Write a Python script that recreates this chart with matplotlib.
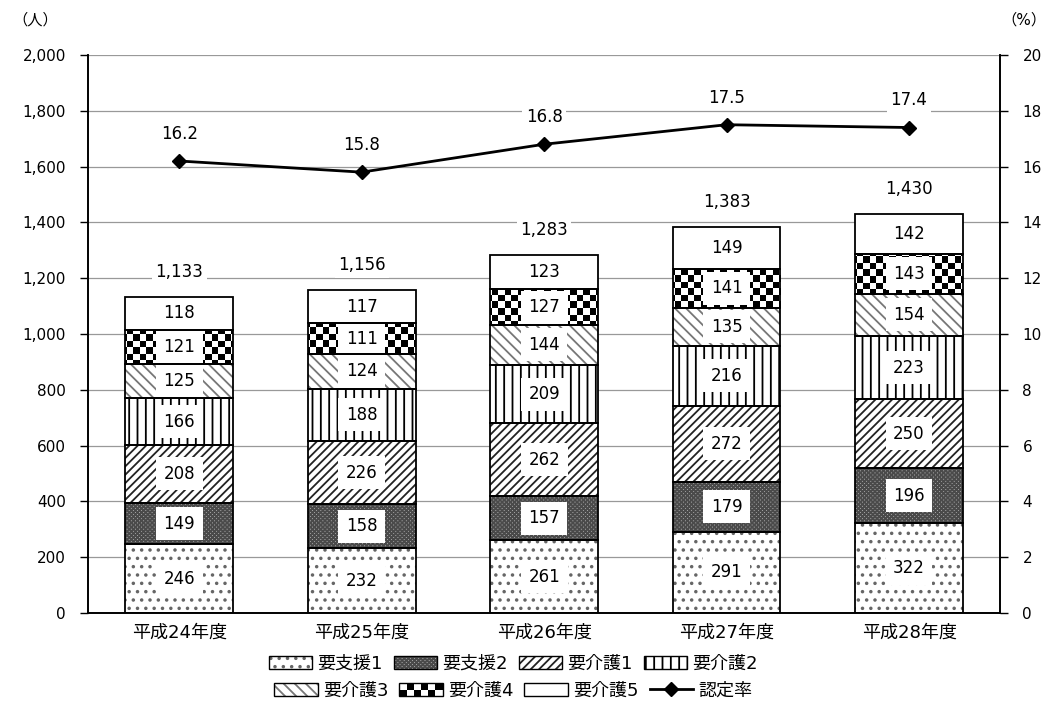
import numpy as np
import matplotlib
matplotlib.use("Agg")
import matplotlib.pyplot as plt
from matplotlib.patches import Patch, Rectangle
from matplotlib.lines import Line2D
from matplotlib.legend_handler import HandlerBase

plt.rcParams['font.family'] = ['DejaVu Sans', 'Noto Sans CJK JP']
plt.rcParams['hatch.linewidth'] = 1.3

# data
years = ["平成24年度", "平成25年度", "平成26年度", "平成27年度", "平成28年度"]
levels = ["要支援1", "要支援2", "要介護1", "要介護2", "要介護3", "要介護4", "要介護5"]
shien1 = [246, 232, 261, 291, 322]
shien2 = [149, 158, 157, 179, 196]
kaigo1 = [208, 226, 262, 272, 250]
kaigo2 = [166, 188, 209, 216, 223]
kaigo3 = [125, 124, 144, 135, 154]
kaigo4 = [121, 111, 127, 141, 143]
kaigo5 = [118, 117, 123, 149, 142]
rate = [16.2, 15.8, 16.8, 17.5, 17.4]

series = [shien1, shien2, kaigo1, kaigo2, kaigo3, kaigo4, kaigo5]
# (hatch, hatch colour, face colour) per level
styles = [
    ("..", "#666666", "white"),
    ("xxxxxxxx", "#4a4a4a", "#a8a8a8"),
    ("////", "#222222", "white"),
    ("||", "#000000", "white"),
    ("\\\\\\", "#777777", "white"),
    ("checker", "#000000", "white"),
    ("", "#000000", "white"),
]

fig = plt.figure(figsize=(10.54, 7.13), dpi=100)
ax = fig.add_axes([0.0835, 0.1403, 0.8655, 0.7826])
ax2 = ax.twinx()

x = np.arange(len(years))
w = 0.59
bottom = np.zeros(len(years))

# checkerboard texture (axes coords), cells ~6.5 px
nx, ny = 140, 86
checker = np.add.outer(np.arange(ny), np.arange(nx)) % 2

handles = []
for vals, (h, hc, fc), name in zip(series, styles, levels):
    vals = np.array(vals)
    if h == "checker":
        fill = ax.bar(x, vals, w, bottom=bottom, color="white", linewidth=0, zorder=2)
        for rect in fill:
            im = ax.imshow(checker, extent=(0, 1, 0, 1), transform=ax.transAxes,
                           cmap="gray", aspect="auto", interpolation="nearest", zorder=2.5)
            im.set_clip_path(rect)
        hnd = Patch(facecolor="white", edgecolor="black")
    else:
        ax.bar(x, vals, w, bottom=bottom, color=fc, edgecolor=hc, hatch=h,
               linewidth=0, zorder=2)
        hnd = (Patch(facecolor=fc, edgecolor=hc, hatch=h, linewidth=0),
               Patch(facecolor="none", edgecolor="black", linewidth=1))
    ax.bar(x, vals, w, bottom=bottom, fill=False, edgecolor="black", linewidth=1.3, zorder=5)
    for xi, b, v in zip(x, bottom, vals):
        ax.text(xi, b + v / 2, str(v), ha="center", va="center", fontsize=12, zorder=4,
                bbox=dict(boxstyle="square,pad=0.45", fc="white", ec="none"))
    handles.append(hnd)
    bottom = bottom + vals

for xi, t in zip(x, bottom):
    ax.annotate(f"{int(t):,}", (xi, t), xytext=(0, 18), textcoords="offset points",
                ha="center", va="center", fontsize=12, zorder=5,
                bbox=dict(boxstyle="square,pad=0.2", fc="white", ec="none"))

ax2.plot(x, rate, color="black", linewidth=2, marker="D", markersize=7, zorder=4)
for xi, r in zip(x, rate):
    ax2.annotate(f"{r:.1f}", (xi, r), xytext=(0, 19.5), textcoords="offset points",
                 ha="center", va="center", fontsize=12,
                 bbox=dict(boxstyle="square,pad=0.2", fc="white", ec="none"))

ax.set_xlim(-0.5, 4.5)
ax.set_ylim(0, 2000)
ax.set_yticks(np.arange(0, 2001, 200))
ax.set_yticklabels([f"{v:,}" for v in range(0, 2001, 200)])
ax2.set_ylim(0, 20)
ax2.set_yticks(np.arange(0, 21, 2))
ax.set_xticks(x)
ax.set_xticklabels(years, fontsize=13)
ax.tick_params(axis="x", length=0, pad=8)
ax.tick_params(axis="y", length=6, width=1, labelsize=11, pad=10)
ax2.tick_params(axis="y", length=6, width=1, labelsize=11, pad=10)
ax.grid(axis="y", color="#999999", linewidth=0.9, zorder=0)
ax.set_axisbelow(True)
for a in (ax, ax2):
    a.spines["top"].set_visible(False)
    for s in ("left", "right", "bottom"):
        a.spines[s].set_linewidth(1.2)
ax2.set_zorder(ax.get_zorder() + 1)
ax2.patch.set_visible(False)

fig.text(0.012, 0.972, "（人）", fontsize=11, va="center")
fig.text(0.95, 0.972, "（%）", fontsize=11, va="center")


class CheckerHandler(HandlerBase):
    def create_artists(self, legend, orig_handle, xdescent, ydescent, width, height,
                       fontsize, trans):
        arts = []
        nc, nr = 6, 2
        cw, ch = width / nc, height / nr
        for i in range(nr):
            for j in range(nc):
                if (i + j) % 2 == 0:
                    arts.append(Rectangle((-xdescent + j * cw, -ydescent + i * ch), cw, ch,
                                          fc="black", ec="none", transform=trans))
        arts.append(Rectangle((-xdescent, -ydescent), width, height, fc="none",
                              ec="black", lw=1, transform=trans))
        return arts


line_h = Line2D([], [], color="black", linewidth=2, marker="D", markersize=7)
leg_kw = dict(loc="center", ncol=4, frameon=False, fontsize=13, handlelength=2.4,
              handleheight=0.75, handletextpad=0.3, columnspacing=0.6,
              handler_map={handles[5]: CheckerHandler()})
fig.legend(handles[:4], levels[:4], bbox_to_anchor=(0.487, 0.069), **leg_kw)
fig.legend(handles[4:] + [line_h], levels[4:] + ["認定率"], bbox_to_anchor=(0.487, 0.031), **leg_kw)

fig.savefig("out.png", dpi=100)
